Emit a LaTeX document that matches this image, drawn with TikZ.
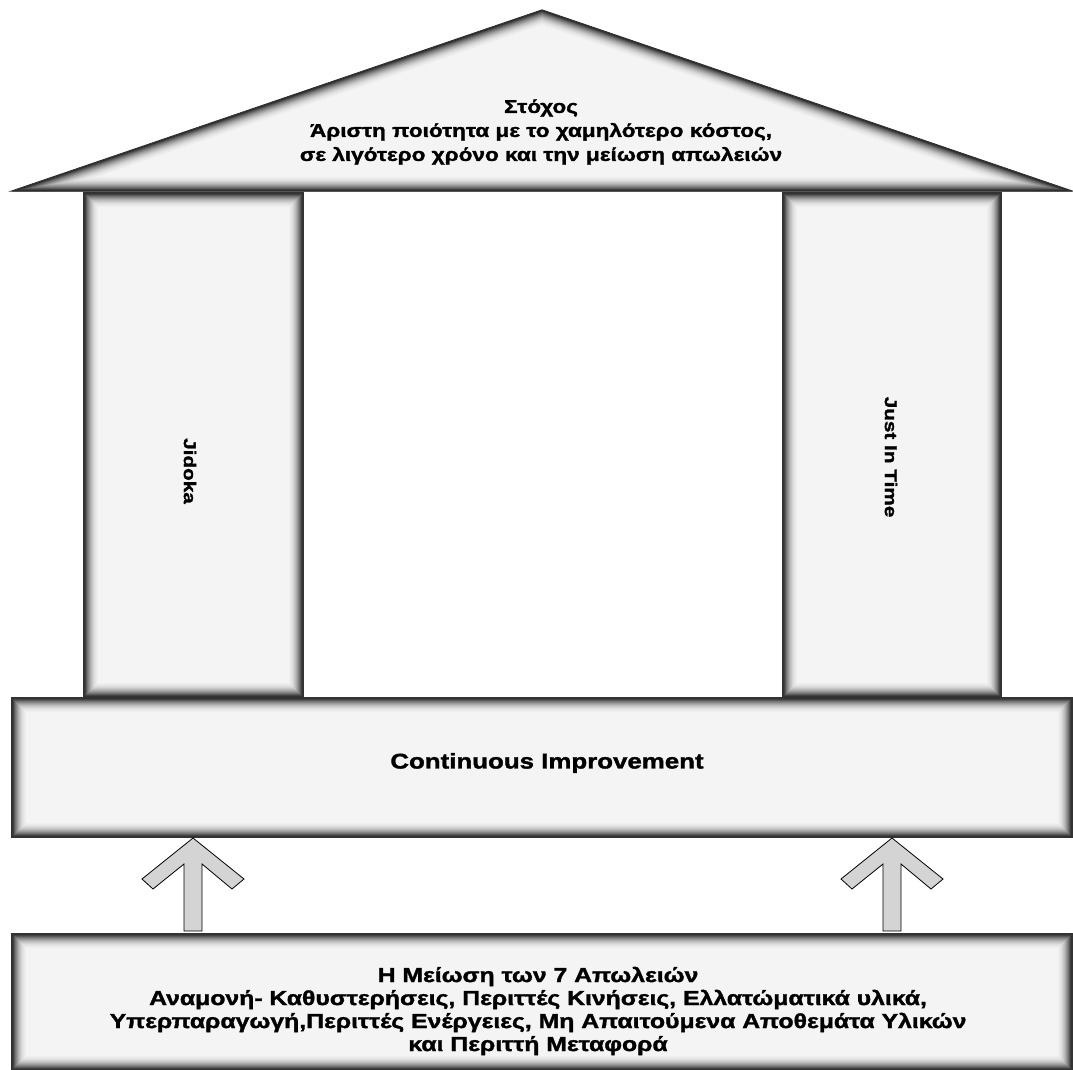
\documentclass[tikz,border=0pt]{standalone}
\usepackage{fontspec}
\newfontfamily\wfont{Liberation Sans}[FakeStretch=1.22,FakeBold=1.6]
\definecolor{bgc}{HTML}{F4F4F4}
\definecolor{arrowc}{HTML}{D4D4D4}
\tikzset{
  txt/.style={font=\wfont\bfseries, align=center, inner sep=0pt},
  blockarrow/.style={fill=arrowc, draw=black, line width=0.8pt, line join=miter},
}
% bevelled shape: #1 = path
\newcommand{\bevelshape}[1]{%
  \begin{scope}
    \fill[bgc] #1;
    \clip #1;
    \foreach \i in {16,15,...,1}{%
      \pgfmathsetmacro{\p}{int(85*(1-(\i-1)/16)^2.2)}%
      \draw[line width=2*\i pt, color=black!\p!bgc] #1;
    }
  \end{scope}
  \draw[black!80, line width=1.2pt] #1;
}
\begin{document}
\begin{tikzpicture}[x=1pt,y=-1pt]
\useasboundingbox (0,0) rectangle (1073,1070);
\fill[white] (0,0) rectangle (1073,1070);
% pillars
\bevelshape{(84,193) rectangle (303,697)}
\bevelshape{(783,193) rectangle (1001,697)}
% roof
\bevelshape{(12,191) -- (542,10) -- (1072,191) -- cycle}
% base
\bevelshape{(12,698) rectangle (1072,837)}
% bottom box
\bevelshape{(12,934) rectangle (1072,1069.5)}
% block arrows
\draw[blockarrow] (193,838) -- (244,879) -- (232,889) -- (202,864) -- (202,931) -- (184,931) -- (184,864) -- (153,889) -- (142,879) -- cycle;
\draw[blockarrow] (892,838) -- (943,879) -- (931,889) -- (901,864) -- (901,931) -- (883,931) -- (883,864) -- (852,889) -- (841,879) -- cycle;
% texts
\node[txt, font=\wfont\bfseries\fontsize{18.5}{24}\selectfont] (goal) at (541,132) {Στόχος\\Άριστη ποιότητα με το χαμηλότερο κόστος,\\σε λιγότερο χρόνο και την μείωση απωλειών};
\node[txt, rotate=-90, font=\wfont\bfseries\fontsize{17}{22}\selectfont] (jidoka) at (190,471) {Jidoka};
\node[txt, rotate=-90, font=\wfont\bfseries\fontsize{17}{22}\selectfont] (jit) at (891,457) {Just In Time};
\node[txt, font=\wfont\bfseries\fontsize{21.2}{23}\selectfont] (ci) at (547,763) {Continuous Improvement};
\node[txt, font=\wfont\bfseries\fontsize{20.3}{23}\selectfont] (waste) at (538,1011) {Η Μείωση των 7 Απωλειών\\Αναμονή- Καθυστερήσεις, Περιττές Κινήσεις, Ελλατώματικά υλικά,\\Υπερπαραγωγή,Περιττές Ενέργειες, Μη Απαιτούμενα Αποθεμάτα Υλικών\\και Περιττή Μεταφορά};
\end{tikzpicture}
\end{document}
